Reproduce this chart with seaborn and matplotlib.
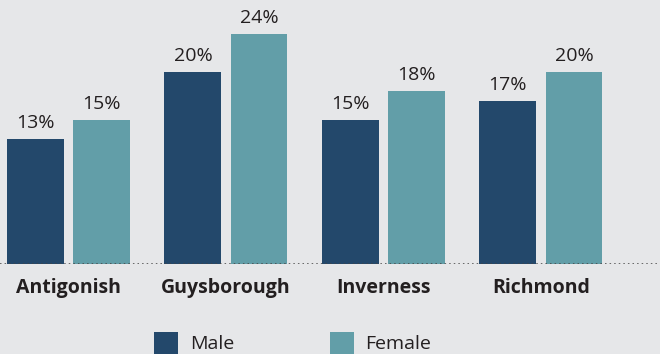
import matplotlib
matplotlib.use("Agg")
import matplotlib.pyplot as plt
from matplotlib.patches import Patch
import pandas as pd
import seaborn as sns

# Share of population by county and sex (%)
counties = ["Antigonish", "Guysborough", "Inverness", "Richmond"]
male = [13, 20, 15, 17]
female = [15, 24, 18, 20]
series = ["Male", "Female"]

BG = "#e6e7e9"
MALE_C = "#23486b"
FEMALE_C = "#629ea8"
TEXT_C = "#231f20"

sns.set_theme(style="white")
plt.rcParams["font.family"] = ["Open Sans", "DejaVu Sans"]

df = pd.DataFrame({
    "County": counties * 2,
    "Sex": ["Male"] * len(counties) + ["Female"] * len(counties),
    "Value": male + female,
})

fig = plt.figure(figsize=(6.6, 3.54), dpi=100, facecolor=BG)
ax = fig.add_axes([0, 90 / 354, 1, 264 / 354])
ax.set_facecolor(BG)

sns.barplot(data=df, x="County", y="Value", hue="Sex", hue_order=series,
            palette=[MALE_C, FEMALE_C], width=0.84, gap=0.14,
            saturation=1, legend=False, linewidth=0, edgecolor="none", ax=ax)

for cont in ax.containers:
    ax.bar_label(cont, labels=[f"{v:.0f}%" for v in cont.datavalues],
                 padding=5, fontsize=14, color=TEXT_C)

ax.set_xlim(-0.435, 3.756)
ax.set_ylim(0, 27.5)
ax.axhline(0, color="#444444", lw=1.1, ls=(0, (1, 2)), zorder=5)

ax.set_xlabel("")
ax.set_ylabel("")
ax.set_yticks([])
ax.tick_params(axis="x", length=0, pad=10)
for lbl in ax.get_xticklabels():
    lbl.set_fontweight("bold")
    lbl.set_fontsize(14)
    lbl.set_color(TEXT_C)
sns.despine(ax=ax, left=True, bottom=True)

handles = [Patch(facecolor=MALE_C, edgecolor="none", label="Male"),
           Patch(facecolor=FEMALE_C, edgecolor="none", label="Female")]
fig.legend(handles=handles, loc="center left",
           bbox_to_anchor=(154 / 660, 11 / 354), ncol=2, frameon=False,
           fontsize=14, labelcolor=TEXT_C, handlelength=1.25,
           handleheight=1.4, handletextpad=0.6, columnspacing=4.9,
           borderpad=0, borderaxespad=0)

fig.savefig("out.png", dpi=100, facecolor=BG)
